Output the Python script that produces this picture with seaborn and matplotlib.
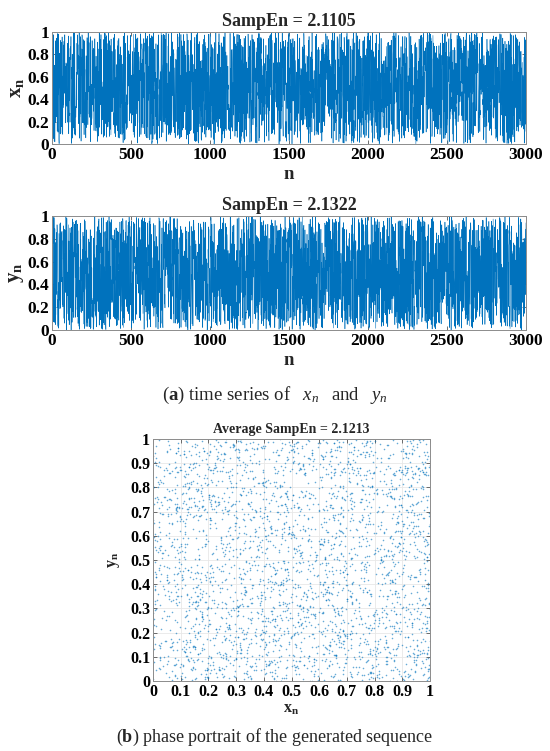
import numpy as np
import pandas as pd
import matplotlib
matplotlib.use("Agg")
import matplotlib.pyplot as plt
import seaborn as sns

# ---- data -------------------------------------------------------------
# The 3000 iterates are chaotic and cannot be read point by point from the
# picture, so they come from a deterministic 2-D chaotic recurrence.
n_points = 3000
x0, y0 = 0.3127, 0.6543
map_a = 37.1
map_b = 53.7
map_c = 41.3
map_d = 61.9
titles = ["SampEn = 2.1105", "SampEn = 2.1322", "Average SampEn = 2.1213"]
top_xticks = [0, 500, 1000, 1500, 2000, 2500, 3000]
top_yticks = [0, 0.2, 0.4, 0.6, 0.8, 1]
top_yticklabels = ["0", "0.2", "0.4", "0.6", "0.8", "1"]
ph_ticks = [0, 0.1, 0.2, 0.3, 0.4, 0.5, 0.6, 0.7, 0.8, 0.9, 1]
ph_ticklabels = ["0", "0.1", "0.2", "0.3", "0.4", "0.5", "0.6", "0.7", "0.8", "0.9", "1"]

xs = np.empty(n_points)
ys = np.empty(n_points)
x, y = x0, y0
for i in range(n_points):
    x = (map_a * 4 * x * (1 - x) + map_b * y) % 1.0
    y = (map_c * 4 * y * (1 - y) + map_d * x) % 1.0
    xs[i] = x
    ys[i] = y
n_idx = np.arange(1, n_points + 1)
df = pd.DataFrame({"n": n_idx, "x": xs, "y": ys})

# ---- style ------------------------------------------------------------
sns.set_style("ticks")
plt.rcParams["font.family"] = ["Liberation Serif", "DejaVu Serif"]
plt.rcParams["mathtext.fontset"] = "custom"
plt.rcParams["mathtext.rm"] = "Liberation Serif"
plt.rcParams["mathtext.bf"] = "Liberation Serif:bold"
plt.rcParams["mathtext.it"] = "Liberation Serif:italic"

color = "#0072BD"
W, H = 550, 751
fig = plt.figure(figsize=(W / 100, H / 100), dpi=100)

def rect(l, t, r, b):
    return [l / W, 1 - b / H, (r - l) / W, (b - t) / H]

def style_axes(ax, fs):
    ax.tick_params(direction="in", top=True, right=True, length=3,
                   width=0.6, labelsize=fs, colors="#555555",
                   labelcolor="black", pad=2)
    for t in ax.get_xticklabels() + ax.get_yticklabels():
        t.set_fontweight("bold")
    for s in ax.spines.values():
        s.set_linewidth(0.7)
        s.set_color("#8c8c8c")

# time series panels
for k, (col, lab, t, b) in enumerate([("x", r"$\mathbf{x_n}$", 32, 144),
                                      ("y", r"$\mathbf{y_n}$", 216, 330)]):
    ax = fig.add_axes(rect(52, t, 526, b))
    sns.lineplot(data=df, x="n", y=col, ax=ax, color=color, linewidth=0.4,
                 estimator=None)
    ax.set_xlim(0, 3000)
    ax.set_ylim(0, 1)
    ax.set_xticks(top_xticks)
    ax.set_xticklabels([str(v) for v in top_xticks])
    ax.set_yticks(top_yticks)
    ax.set_yticklabels(top_yticklabels)
    ax.set_xlabel("n", fontsize=13.5, fontweight="bold", labelpad=2)
    ax.set_ylabel(lab, fontsize=15, labelpad=1)
    ax.set_title(titles[k], fontsize=13, fontweight="bold", pad=4)
    style_axes(ax, 12.5)

fig.text(0.5, 1 - 395 / H,
         r"($\mathbf{a}$) time series of  $\;\mathit{x_n}\;$  and  $\;\mathit{y_n}$",
         ha="center", va="center", fontsize=13.5, fontweight="normal")

# phase portrait
ax = fig.add_axes(rect(153, 439, 430, 681))
sns.scatterplot(data=df, x="x", y="y", ax=ax, color=color, s=1.3,
                linewidth=0, alpha=0.6)
ax.set_xlim(0, 1)
ax.set_ylim(0, 1)
ax.set_xticks(ph_ticks)
ax.set_xticklabels(ph_ticklabels)
ax.set_yticks(ph_ticks)
ax.set_yticklabels(ph_ticklabels)
ax.grid(True, color="#e8e8e8", linewidth=0.6)
ax.set_axisbelow(True)
ax.set_xlabel(r"$\mathbf{x_n}$", fontsize=11.5, labelpad=1)
ax.set_ylabel(r"$\mathbf{y_n}$", fontsize=11.5, labelpad=6)
ax.set_title(titles[2], fontsize=10, fontweight="bold", pad=4)
style_axes(ax, 11.5)

fig.text(0.5, 1 - 737 / H,
         r"($\mathbf{b}$) phase portrait of the generated sequence",
         ha="center", va="center", fontsize=13, fontweight="normal")

fig.savefig("out.png", dpi=100, facecolor="white")
